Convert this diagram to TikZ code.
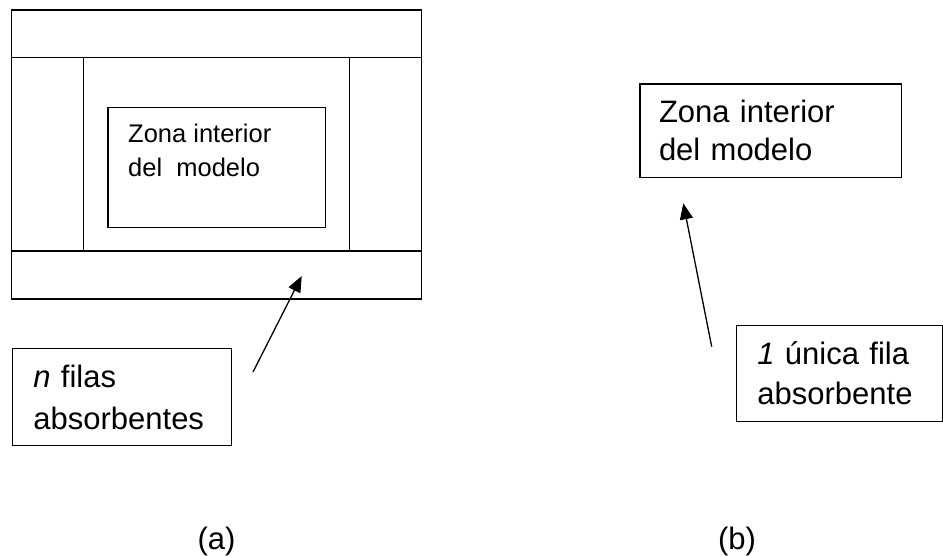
\documentclass[tikz,border=0pt]{standalone}
\usepackage{fontspec}
\setmainfont{Liberation Sans}
\usetikzlibrary{arrows.meta}

\begin{document}
\begin{tikzpicture}[
        x=1pt, y=-1pt,
        every node/.style={font=\fontsize{31}{40}\selectfont},
        line/.style={line width=1.4pt},
        box/.style={rectangle, draw, line width=1.4pt, align=left, anchor=north west, inner ysep=0pt},
        arrow/.style={-{Triangle[length=16pt,width=13pt]}, line width=1.3pt}
    ]
    \useasboundingbox (0,0) rectangle (943,556);

    % Model with n absorbing rows
    \draw[line] (11.7,10) rectangle (421.7,299);
    \draw[line] (11.7,57.7) -- (421.7,57.7);
    \draw[line] (11.7,251) -- (421.7,251);
    \draw[line] (83.7,57.7) -- (83.7,251);
    \draw[line] (349.3,57.7) -- (349.3,251);

    % Interior zone
    \node[box, minimum width=217.7pt, minimum height=120.3pt] (inner) at (107.3,106.7) {};
    \node[anchor=north west, inner sep=0pt, align=left, font=\fontsize{25.5}{34.5}\selectfont] (innertext) at ([xshift=20.7pt, yshift=-17pt]inner.north west) {Zona interior\\del\ \ modelo};

    % Label n rows
    \node[box, text width=177pt, inner xsep=21pt, minimum height=97pt, font=\fontsize{31}{41.7}\selectfont] (nrows) at (11.7,348) {\textit{n} filas\\absorbentes};
    \coordinate (tailA) at (253,372);
    \coordinate (tipA) at (301.7,276);
    \draw[arrow] (tailA) -- (tipA);

    % Model with a single absorbing row
    \node[box, text width=223.4pt, inner xsep=19pt, minimum height=93.4pt, font=\fontsize{31}{38}\selectfont] (zone) at (639.3,83.3) {Zona interior\\del modelo};
    \node[box, text width=164.3pt, inner xsep=20.7pt, minimum height=96pt] (onerow) at (736,325) {\textit{1} única fila\\absorbente};
    \coordinate (tailB) at (711.7,346.7);
    \coordinate (tipB) at (683.3,203.3);
    \draw[arrow] (tailB) -- (tipB);

    % Captions
    \node[anchor=base] (capa) at (216.5,549) {(a)};
    \node[anchor=base] (capb) at (737,549) {(b)};
\end{tikzpicture}
\end{document}
